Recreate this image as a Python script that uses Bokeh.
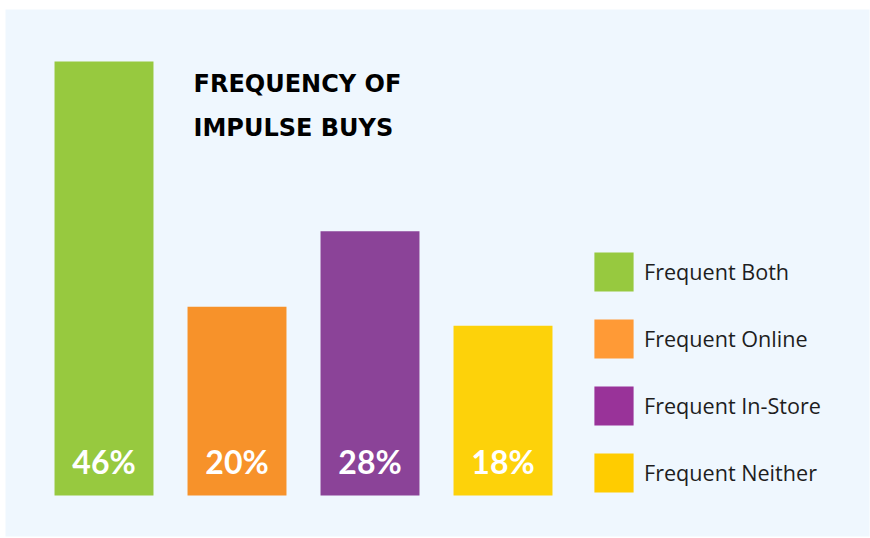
from bokeh.plotting import figure
from bokeh.models import Range1d, Legend, LegendItem, Label, ColumnDataSource
from bokeh.core.properties import value
from bokeh.embed import file_html
from bokeh.resources import INLINE

categories = ["Frequent Both", "Frequent Online", "Frequent In-Store", "Frequent Neither"]
values = [46, 20, 28, 18]
labels = ["46%", "20%", "28%", "18%"]
bar_colors = ["#97C93F", "#F7922A", "#8B4398", "#FDD20A"]
legend_colors = ["#97C93F", "#FF9A36", "#993399", "#FFCC00"]
title_lines = ["FREQUENCY OF", "IMPULSE BUYS"]

xs = list(range(len(values)))
src = ColumnDataSource(dict(x=xs, top=values, color=bar_colors, label=labels))

p = figure(width=870, height=538, output_backend="svg", toolbar_location=None,
           x_range=Range1d(-0.7406, 5.7556), y_range=Range1d(-4.346, 51.511),
           x_axis_location=None, y_axis_location=None,
           min_border_left=5, min_border_right=1, min_border_top=9, min_border_bottom=2)
p.grid.visible = False
p.outline_line_color = None
p.background_fill_color = "#EFF7FE"
p.border_fill_color = "#FFFFFF"

p.vbar(x="x", top="top", bottom=0, width=0.744, fill_color="color", line_color=None, source=src)

p.text(x="x", y=0, text="label", source=src, text_align="center", text_baseline="alphabetic",
       y_offset=-34, text_color="#FFFFFF", text_font=value("Lato"), text_font_style="bold",
       text_font_size="32px")

items = []
for i, cat in enumerate(categories):
    r = p.vbar(x=[xs[i]], top=[values[i]], bottom=0, width=0.744,
               fill_color=legend_colors[i], line_color=None, visible=False)
    items.append(LegendItem(label=cat, renderers=[r]))

legend = Legend(items=items, location=(584, 39), orientation="vertical",
                glyph_width=49, glyph_height=49, spacing=18, label_standoff=6,
                label_height=49, padding=0, margin=0, border_line_color=None,
                background_fill_alpha=0, label_text_font="Open Sans",
                label_text_font_size="21.6px", label_text_color="#1E1E1E")
p.add_layout(legend)

for j, line in enumerate(title_lines):
    p.add_layout(Label(x=188, y=453 - 44 * j, x_units="screen", y_units="screen",
                       text=line, text_font="DejaVu Sans", text_font_style="bold",
                       text_font_size="24px", text_color="#000000",
                       text_baseline="alphabetic"))

open("out.html", "w").write(file_html(p, INLINE))
